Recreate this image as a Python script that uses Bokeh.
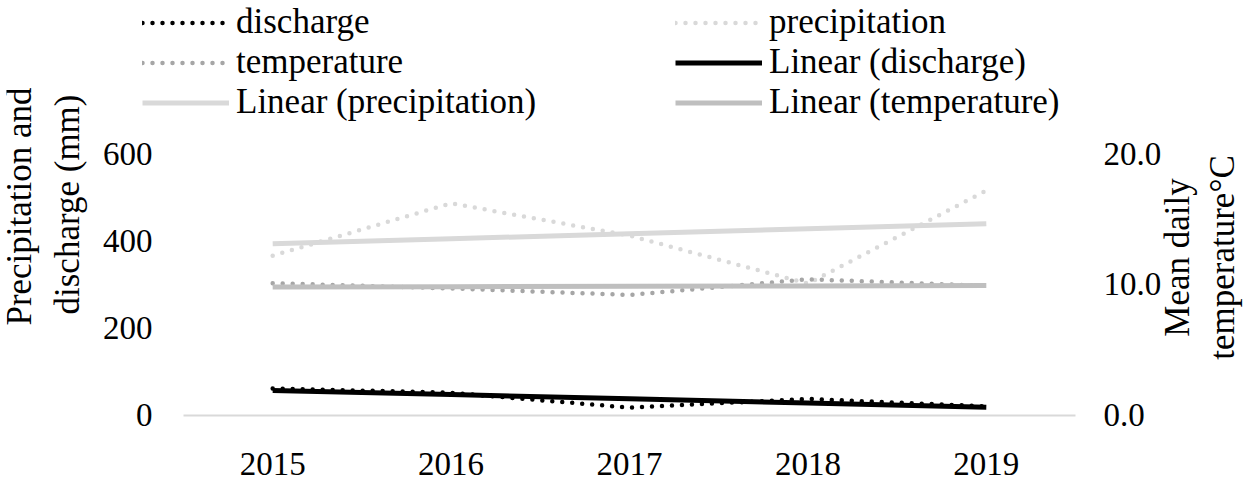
import numpy as np
from bokeh.plotting import figure
from bokeh.models import (Range1d, FactorRange, LinearAxis, CategoricalAxis, FixedTicker, Legend,
                          LegendItem, Label, NumeralTickFormatter)
from bokeh.embed import file_html
from bokeh.resources import INLINE

years = ["2015", "2016", "2017", "2018", "2019"]
discharge = [62, 52, 18, 38, 21]
precipitation = [366, 486, 412, 302, 515]
temperature = [10.1, 9.7, 9.2, 10.4, 9.9]

left_ticks = [0, 200, 400, 600]
right_ticks = [0, 10, 20]

FONT = "Liberation Serif"
TICK_SIZE = "33px"
TEXT_SIZE = "35px"
W, H = 1252, 487

# frame covers the whole canvas; axes drawn at fixed locations inside it
xr = FactorRange(*years, range_padding=0.992, range_padding_units="absolute")
p = figure(width=W, height=H, x_range=xr, y_range=Range1d(-164.9, 950.4),
           output_backend="svg", toolbar_location=None, x_axis_type=None, y_axis_type=None,
           min_border_left=6, min_border_right=0, min_border_top=0, min_border_bottom=0)
p.extra_y_ranges = {"temp": Range1d(-164.9 / 30, 950.4 / 30)}
p.outline_line_color = None
p.grid.visible = False
p.background_fill_color = "white"

xa = CategoricalAxis(fixed_location=0, bounds=(0, len(years)))
xa.axis_line_color = "#d9d9d9"
xa.axis_line_width = 2
xa.major_tick_line_color = None
xa.major_tick_out = 0
xa.major_tick_in = 0
xa.minor_tick_line_color = None
xa.major_label_standoff = 38
xa.major_label_text_font = FONT
xa.major_label_text_font_size = TICK_SIZE
xa.major_label_text_color = "black"
p.add_layout(xa, "below")

ly = LinearAxis(fixed_location=0, ticker=FixedTicker(ticks=left_ticks))
ry = LinearAxis(fixed_location=len(years), y_range_name="temp", ticker=FixedTicker(ticks=right_ticks),
                formatter=NumeralTickFormatter(format="0.0"))
for ax, so in ((ly, 31), (ry, 28)):
    ax.axis_line_color = None
    ax.major_tick_line_color = None
    ax.major_tick_out = 0
    ax.major_tick_in = 0
    ax.minor_tick_line_color = None
    ax.major_label_standoff = so
    ax.major_label_text_font = FONT
    ax.major_label_text_font_size = TICK_SIZE
    ax.major_label_text_color = "black"
p.add_layout(ly, "left")
p.add_layout(ry, "right")

DOT = "0 10"
xi = np.arange(len(years))

r_dis = p.line(years, discharge, line_color="black", line_width=4.5, line_dash=DOT, line_cap="round")
r_pre = p.line(years, precipitation, line_color="#d9d9d9", line_width=4.5, line_dash=DOT, line_cap="round")
r_tem = p.line(years, temperature, line_color="#a6a6a6", line_width=4.5, line_dash=DOT, line_cap="round",
               y_range_name="temp")

def fit(vals):
    k, b = np.polyfit(xi, np.array(vals, dtype=float), 1)
    return list(k * xi + b)

r_ldis = p.line(years, fit(discharge), line_color="black", line_width=5)
r_lpre = p.line(years, fit(precipitation), line_color="#d9d9d9", line_width=5)
r_ltem = p.line(years, fit(temperature), line_color="#bfbfbf", line_width=5, y_range_name="temp")

def mk_legend(items, loc):
    lg = Legend(items=items, location=loc, orientation="vertical")
    lg.padding = 0
    lg.margin = 0
    lg.spacing = 0
    lg.border_line_color = None
    lg.background_fill_alpha = 0
    lg.glyph_width = 87
    lg.glyph_height = 39
    lg.label_height = 39
    lg.label_standoff = 7
    lg.label_text_font = FONT
    lg.label_text_font_size = TEXT_SIZE
    lg.label_text_color = "black"
    lg.label_text_baseline = "middle"
    return lg

lg1 = mk_legend([LegendItem(label="discharge", renderers=[r_dis]),
                 LegendItem(label="temperature", renderers=[r_tem]),
                 LegendItem(label="Linear (precipitation)", renderers=[r_lpre])], (136, 365))
lg2 = mk_legend([LegendItem(label="precipitation", renderers=[r_pre]),
                 LegendItem(label="Linear (discharge)", renderers=[r_ldis]),
                 LegendItem(label="Linear (temperature)", renderers=[r_ltem])], (669, 365))
p.add_layout(lg1)
p.add_layout(lg2)

def title_label(text, x, y):
    return Label(x=x, y=y, x_units="screen", y_units="screen", text=text, angle=np.pi / 2,
                 text_align="center", text_baseline="middle", text_font=FONT,
                 text_font_size=TEXT_SIZE, text_color="black")

p.add_layout(title_label("Precipitation and", 13, 281))
p.add_layout(title_label("discharge (mm)", 61, 283))
p.add_layout(title_label("Mean daily", 1171, 230))
p.add_layout(title_label("temperature°C", 1216, 230))

open("out.html", "w").write(file_html(p, INLINE))
